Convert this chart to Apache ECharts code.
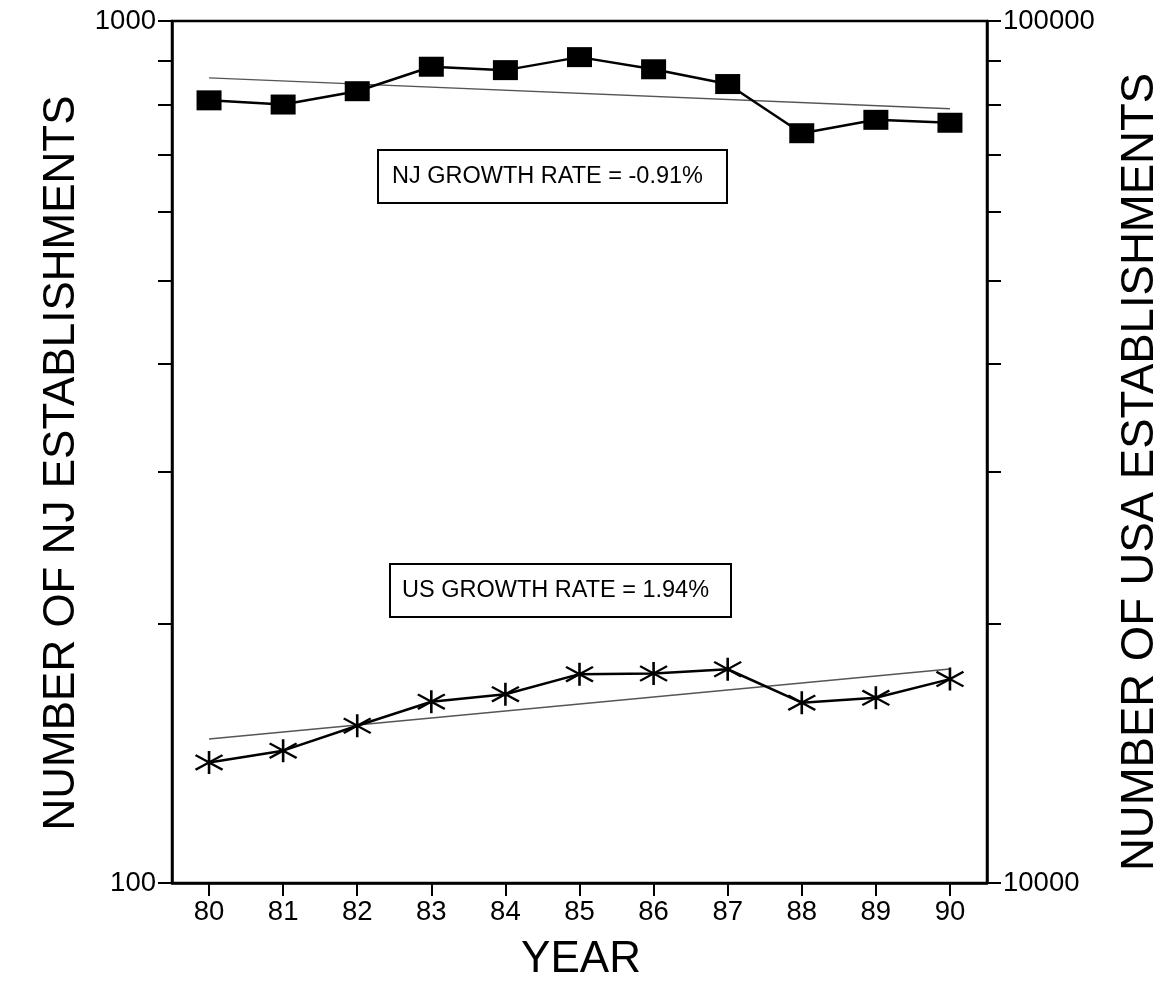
<!DOCTYPE html>
<html>
<head>
<meta charset="utf-8">
<script src="https://cdn.jsdelivr.net/npm/echarts@6/dist/echarts.min.js"></script>
<style>
html,body{margin:0;padding:0;background:#fff;}
#chart{width:1176px;height:981px;}
</style>
</head>
<body>
<div id="chart"></div>
<script>
const years = ['80','81','82','83','84','85','86','87','88','89','90'];
const njValues = [809, 800, 829, 885, 877, 908, 879, 845, 741, 768, 762];
const usValues = [13800, 14240, 15220, 16230, 16560, 17470, 17500, 17700, 16190, 16400, 17240];
const njTrend = [859, null, null, null, null, null, null, null, null, null, 791];
const usTrend = [14690, null, null, null, null, null, null, null, null, null, 17710];
const leftTicks = [100, 200, 300, 400, 500, 600, 700, 800, 900, 1000];
const leftLabels = [100, 1000];
const rightTicks = [10000, 20000, 30000, 40000, 50000, 60000, 70000, 80000, 90000, 100000];
const rightLabels = [10000, 100000];
const njNote = 'NJ GROWTH RATE = -0.91%';
const usNote = 'US GROWTH RATE = 1.94%';
const leftTitle = 'NUMBER OF NJ ESTABLISHMENTS';
const rightTitle = 'NUMBER OF USA ESTABLISHMENTS';
const xTitle = 'YEAR';

const FONT = '"Liberation Sans", Arial, Helvetica, sans-serif';
const chart = echarts.init(document.getElementById('chart'), null, {renderer: 'canvas'});

function yAxisCfg(min, max, ticks, labels, pos) {
  return {
    type: 'log', logBase: 10, min: min, max: max, position: pos,
    axisLine: {show: true, lineStyle: {color: '#000', width: 2.5}},
    axisTick: {show: true, length: 14, inside: false, customValues: ticks, lineStyle: {color: '#000', width: 2}},
    axisLabel: {show: true, customValues: labels, margin: 16, color: '#000', fontSize: 27.5, fontFamily: FONT,
      formatter: v => String(Math.round(v))},
    splitLine: {show: false}, minorTick: {show: false}
  };
}

const asterisk = 'path://M13,0L13,22M0,4L26,18M0,18L26,4';

chart.setOption({
  animation: false,
  backgroundColor: '#fff',
  grid: {left: 172, right: 189, top: 21, bottom: 98, show: true, borderColor: '#000', borderWidth: 2.5, backgroundColor: 'transparent'},
  xAxis: {
    type: 'category', data: years, boundaryGap: true,
    axisLine: {show: true, lineStyle: {color: '#000', width: 2.5}},
    axisTick: {show: true, alignWithLabel: true, length: 13, lineStyle: {color: '#000', width: 2}},
    axisLabel: {color: '#000', fontSize: 27.5, fontFamily: FONT, margin: 15},
    splitLine: {show: false}
  },
  yAxis: [
    yAxisCfg(100, 1000, leftTicks, leftLabels, 'left'),
    yAxisCfg(10000, 100000, rightTicks, rightLabels, 'right')
  ],
  series: [
    {name: 'NJ trend', type: 'line', yAxisIndex: 0, data: njTrend, connectNulls: true, showSymbol: false, symbol: 'none',
      lineStyle: {color: '#555', width: 1.4}, z: 2},
    {name: 'US trend', type: 'line', yAxisIndex: 1, data: usTrend, connectNulls: true, showSymbol: false, symbol: 'none',
      lineStyle: {color: '#555', width: 1.4}, z: 2},
    {name: 'NJ', type: 'line', yAxisIndex: 0, data: njValues, symbol: 'rect', symbolSize: [25, 20],
      lineStyle: {color: '#000', width: 2.5}, itemStyle: {color: '#000'}, z: 3},
    {name: 'US', type: 'line', yAxisIndex: 1, data: usValues, symbol: asterisk, symbolSize: [27, 23],
      lineStyle: {color: '#000', width: 2.5}, itemStyle: {color: 'none', borderColor: '#000', borderWidth: 2.4}, z: 3}
  ],
  graphic: [
    {type: 'rect', shape: {x: 378, y: 150, width: 349, height: 53}, style: {fill: '#fff', stroke: '#000', lineWidth: 2}, z: 10},
    {type: 'text', x: 392, y: 177, style: {text: njNote, font: '23.5px ' + FONT, fill: '#000', textVerticalAlign: 'middle', verticalAlign: 'middle'}, z: 11},
    {type: 'rect', shape: {x: 390, y: 564, width: 341, height: 53}, style: {fill: '#fff', stroke: '#000', lineWidth: 2}, z: 10},
    {type: 'text', x: 402, y: 591, style: {text: usNote, font: '23.5px ' + FONT, fill: '#000', textVerticalAlign: 'middle', verticalAlign: 'middle'}, z: 11},
    {type: 'text', x: 62, y: 463, rotation: Math.PI / 2, style: {text: leftTitle, font: '44px ' + FONT, fill: '#000', align: 'center', verticalAlign: 'middle', textAlign: 'center', textVerticalAlign: 'middle'}},
    {type: 'text', x: 1140, y: 472, rotation: Math.PI / 2, style: {text: rightTitle, font: '45.5px ' + FONT, fill: '#000', align: 'center', verticalAlign: 'middle', textAlign: 'center', textVerticalAlign: 'middle'}},
    {type: 'text', x: 581, y: 960, style: {text: xTitle, font: '44px ' + FONT, fill: '#000', align: 'center', verticalAlign: 'middle', textAlign: 'center', textVerticalAlign: 'middle'}}
  ]
});
</script>
</body>
</html>
